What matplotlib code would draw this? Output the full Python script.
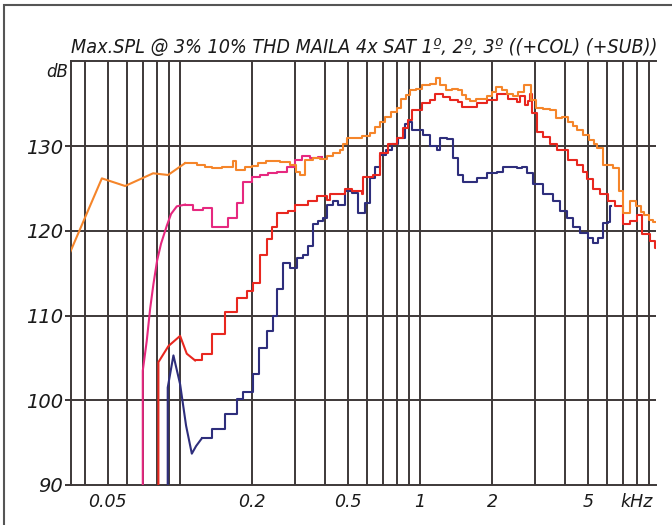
import matplotlib
matplotlib.use('Agg')
import matplotlib.pyplot as plt
from matplotlib.patches import Rectangle

# frequencies in kHz, levels in dB
orange_ramp_f = [0.0340, 0.0472, 0.0590, 0.0772, 0.0891, 0.1049]
orange_ramp_db = [116.8, 126.2, 125.3, 126.8, 126.6, 128.0]
orange_f = [0.1049, 0.1177, 0.1271, 0.1359, 0.1496, 0.1663, 0.1711, 0.1866, 0.1995, 0.2113,
            0.2282, 0.2610, 0.2872, 0.3042, 0.3162, 0.3318, 0.3582, 0.3831, 0.4097, 0.4339,
            0.4642, 0.4777, 0.4964, 0.5516, 0.5730, 0.6189, 0.6494, 0.6813, 0.7149, 0.7571,
            0.8020, 0.8333, 0.8743, 0.9085, 0.9624, 1.019, 1.101, 1.166, 1.212, 1.283,
            1.359, 1.440, 1.496, 1.555, 1.616, 1.711, 1.813, 1.902, 1.995, 2.073,
            2.196, 2.305, 2.441, 2.560, 2.712, 2.900, 3.043, 3.255, 3.482, 3.687,
            3.906, 4.137, 4.340, 4.510, 4.777, 5.061, 5.309, 5.464, 5.788, 6.372,
            6.748, 7.013, 7.499, 7.943, 8.333, 8.577, 9.000, 9.350, 9.624]
orange_db = [128.0, 127.8, 127.5, 127.4, 127.6, 128.2, 127.2, 127.5, 127.7, 128.0,
             128.2, 128.1, 127.8, 127.0, 126.6, 128.4, 128.6, 128.5, 128.8, 129.2,
             129.6, 130.3, 131.0, 131.0, 131.2, 131.6, 132.3, 132.8, 133.5, 134.0,
             134.5, 135.6, 136.1, 136.6, 136.8, 137.2, 137.3, 138.0, 137.2, 136.6,
             136.8, 136.6, 136.0, 135.6, 135.3, 135.6, 135.6, 135.9, 136.4, 137.0,
             136.6, 136.2, 135.9, 136.4, 137.2, 135.4, 134.5, 134.4, 134.3, 133.3,
             133.5, 132.9, 132.4, 131.9, 131.3, 130.7, 130.2, 129.8, 127.8, 127.4,
             124.7, 122.1, 123.5, 122.9, 122.2, 121.9, 121.3, 121.0, 121.0]

red_ramp_f = [0.0812, 0.0812, 0.0894, 0.1000, 0.1066, 0.1155]
red_ramp_db = [85.0, 104.5, 106.4, 107.6, 105.5, 104.7]
red_f = [0.1155, 0.1231, 0.1355, 0.1540, 0.1722, 0.1896, 0.2020, 0.2154, 0.2298, 0.2410,
         0.2528, 0.2826, 0.3013, 0.3424, 0.3712, 0.4085, 0.4217, 0.4870, 0.5207, 0.5715,
         0.5803, 0.6389, 0.6813, 0.7377, 0.7996, 0.8520, 0.8937, 0.9235, 1.016, 1.101,
         1.155, 1.251, 1.334, 1.444, 1.492, 1.723, 1.896, 2.087, 2.333, 2.528,
         2.610, 2.738, 2.818, 2.873, 2.920, 3.064, 3.265, 3.482, 3.712, 4.149,
         4.497, 4.790, 4.950, 5.274, 5.623, 6.091, 6.494, 7.034, 7.499, 7.996,
         8.391, 9.085, 9.532, 9.624]
red_db = [104.7, 105.5, 107.8, 110.4, 112.1, 112.9, 113.9, 117.2, 119.0, 120.4,
          122.1, 122.3, 123.1, 123.5, 124.1, 123.7, 124.3, 124.9, 124.7, 124.3,
          126.4, 126.6, 129.2, 130.2, 131.0, 132.1, 133.1, 134.3, 135.1, 135.5,
          136.2, 135.8, 135.5, 135.2, 134.6, 135.1, 135.5, 136.2, 135.6, 135.2,
          135.9, 134.9, 135.3, 136.2, 133.9, 131.7, 131.1, 130.2, 129.6, 128.4,
          127.8, 127.0, 126.1, 124.9, 124.3, 123.5, 122.9, 120.8, 121.2, 121.9,
          119.6, 118.8, 118.0, 118.0]

pink_ramp_f = [0.0699, 0.0699, 0.0726, 0.0750, 0.0774, 0.0802, 0.0833, 0.0880, 0.0917, 0.0969, 0.1049]
pink_ramp_db = [85.0, 103.5, 107.0, 110.8, 113.7, 116.5, 118.5, 120.6, 122.0, 122.9, 123.1]
pink_f = [0.1049, 0.1136, 0.1251, 0.1355, 0.1590, 0.1722, 0.1825, 0.1989, 0.2154, 0.2333,
          0.2528, 0.2783, 0.3013, 0.3214, 0.3480, 0.3769, 0.3905]
pink_db = [123.1, 122.5, 122.7, 120.4, 121.5, 123.3, 125.8, 126.4, 126.6, 126.8,
           127.0, 127.6, 128.4, 128.8, 128.6, 128.7, 128.7]

blue_ramp_f = [0.0888, 0.0888, 0.0938, 0.1000, 0.1059, 0.1119, 0.1166, 0.1231]
blue_ramp_db = [85.0, 101.5, 105.3, 101.9, 97.0, 93.7, 94.6, 95.5]
blue_f = [0.1231, 0.1355, 0.1540, 0.1722, 0.1835, 0.2020, 0.2140, 0.2298, 0.2447, 0.2528,
          0.2694, 0.2872, 0.3063, 0.3264, 0.3424, 0.3592, 0.3769, 0.3955, 0.4085, 0.4351,
          0.4553, 0.4870, 0.5207, 0.5534, 0.5899, 0.6189, 0.6494, 0.6813, 0.7217, 0.7622,
          0.8121, 0.8660, 0.8937, 0.9235, 1.032, 1.101, 1.174, 1.212, 1.292, 1.377,
          1.444, 1.515, 1.723, 1.896, 2.087, 2.224, 2.528, 2.654, 2.784, 2.966,
          3.265, 3.593, 3.831, 4.087, 4.353, 4.642, 5.026, 5.274, 5.533, 5.805,
          6.091, 6.190, 6.249]
blue_db = [95.5, 96.6, 98.4, 100.2, 101.0, 103.1, 106.2, 108.2, 110.0, 113.1,
           116.2, 115.6, 116.8, 117.2, 118.2, 120.8, 121.2, 121.5, 123.1, 123.5,
           123.1, 124.7, 124.5, 122.1, 123.3, 126.2, 127.5, 129.0, 129.6, 130.2,
           131.0, 132.6, 132.9, 131.9, 131.3, 130.0, 129.6, 131.0, 130.9, 128.6,
           126.6, 125.8, 126.2, 126.8, 127.0, 127.6, 127.4, 127.6, 126.8, 125.5,
           124.3, 123.5, 122.3, 121.5, 120.4, 119.8, 119.2, 118.6, 119.2, 120.9,
           121.1, 122.9, 122.9]

x_ticks = [0.05, 0.2, 0.5, 1, 2, 5, 7.95]
x_labels = ['0.05', '0.2', '0.5', '1', '2', '5', 'kHz']
y_ticks = [90, 100, 110, 120, 130]
grid_f = [0.04, 0.05, 0.06, 0.07, 0.08, 0.09,
          0.1, 0.2, 0.3, 0.4, 0.5, 0.6, 0.7, 0.8, 0.9,
          1, 2, 3, 4, 5, 6, 7, 8, 9]
title = 'Max.SPL @ 3% 10% THD MAILA 4x SAT 1º, 2º, 3º ((+COL) (+SUB))'

grid_col = '#3d3838'

fig = plt.figure(figsize=(6.72, 5.25), dpi=100)
ax = fig.add_axes([0.1052, 0.0762, 0.8710, 0.8067])
ax.set_xscale('log')
ax.set_xlim(0.0350, 9.62)
ax.set_ylim(90, 140)

# grid
for f in grid_f:
    ax.axvline(f, color=grid_col, lw=1.4, zorder=1)
for y in [100, 110, 120, 130]:
    ax.axhline(y, color=grid_col, lw=1.4, zorder=1)

series = [
    (pink_ramp_f, pink_ramp_db, pink_f, pink_db, '#e6287f'),
    (blue_ramp_f, blue_ramp_db, blue_f, blue_db, '#2e2e7c'),
    (red_ramp_f, red_ramp_db, red_f, red_db, '#e8271f'),
    (orange_ramp_f, orange_ramp_db, orange_f, orange_db, '#f5852a'),
]
for rf, rdb, sf, sdb, c in series:
    ax.plot(rf, rdb, color=c, lw=1.5, zorder=3)
    ax.plot(sf, sdb, color=c, lw=1.5, drawstyle='steps-post', zorder=3)

for s in ['left', 'top', 'bottom']:
    ax.spines[s].set_color(grid_col)
    ax.spines[s].set_linewidth(1.4)
ax.spines['right'].set_visible(False)

ax.set_xticks(x_ticks)
ax.set_xticklabels(x_labels, fontsize=12.5, style='italic', color='#1a1a1a')
ax.set_xticks([], minor=True)
ax.tick_params(axis='x', length=0, pad=6)
ax.set_yticks(y_ticks)
ax.set_yticklabels([str(v) for v in y_ticks], fontsize=14, style='italic', color='#1a1a1a')
ax.tick_params(axis='y', length=4, width=1.4, color=grid_col, pad=1.5)

ax.text(-0.005, 0.975, 'dB', transform=ax.transAxes, ha='right', va='center',
        fontsize=12, style='italic', color='#1a1a1a')
fig.text(0.1052, 0.9, title, ha='left', va='baseline', fontsize=14.1, style='italic',
         fontstretch='condensed', family=['DejaVu Sans'], color='#1a1a1a')

fig.add_artist(Rectangle((4 / 672, -0.1), 1.2, 1.1 - 5 / 525, transform=fig.transFigure,
                         fill=False, ec='#555555', lw=1.5))

fig.savefig('out.png', dpi=100)
